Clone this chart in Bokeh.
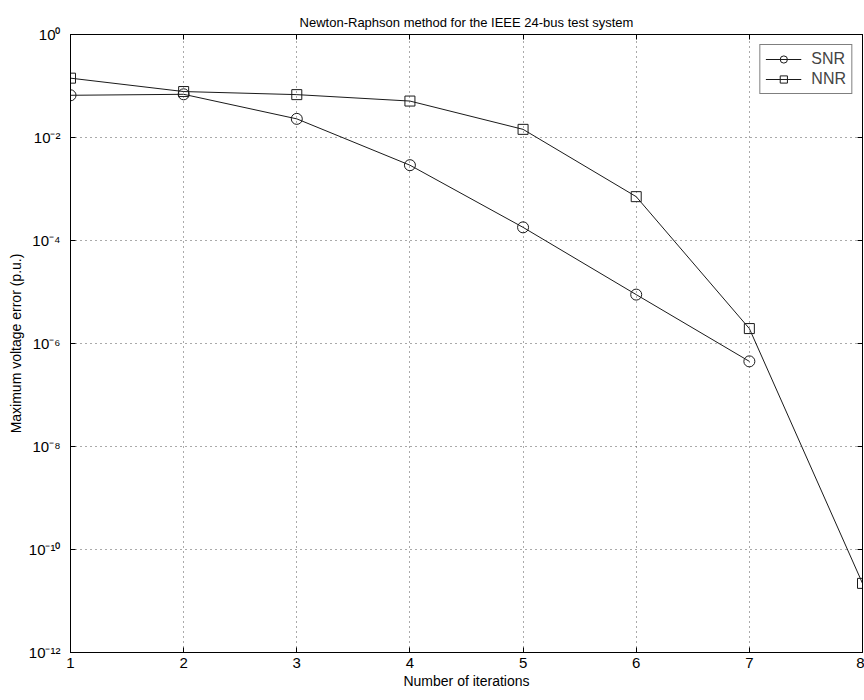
from bokeh.plotting import figure
from bokeh.models import (FixedTicker, CustomJSTickFormatter, Legend, LegendItem,
                          LogAxis, LinearAxis, Title)
from bokeh.embed import file_html
from bokeh.resources import INLINE

# Data
snr_iter = [1, 2, 3, 4, 5, 6, 7]
snr_err = [0.066, 0.069, 0.023, 0.0029, 1.8e-4, 8.9e-6, 4.5e-7]
nnr_iter = [1, 2, 3, 4, 5, 6, 7, 8]
nnr_err = [0.142, 0.078, 0.068, 0.051, 0.0144, 7.1e-4, 1.95e-6, 2.2e-11]
x_ticks = [1, 2, 3, 4, 5, 6, 7, 8]
y_ticks = [1e0, 1e-2, 1e-4, 1e-6, 1e-8, 1e-10, 1e-12]

FONT = "Liberation Sans"
C = "#1a1a1a"

p = figure(width=864, height=700, y_axis_type="log", x_range=(1, 8), y_range=(1e-12, 1),
           output_backend="svg", toolbar_location=None,
           min_border_left=70, min_border_right=2, min_border_top=34, min_border_bottom=48)
p.title = Title(text="Newton-Raphson method for the IEEE 24-bus test system",
                align="center", text_font=FONT, text_font_size="13px",
                text_font_style="normal", text_color="black")

sup_fmt = CustomJSTickFormatter(code="""
const sup = {'-':'\u207b','0':'\u2070','1':'\u00b9','2':'\u00b2','3':'\u00b3','4':'\u2074',
             '5':'\u2075','6':'\u2076','7':'\u2077','8':'\u2078','9':'\u2079'};
const e = String(Math.round(Math.log10(tick)));
let s = '';
for (const ch of e) s += sup[ch];
return '10' + s;
""")

p.yaxis.ticker = FixedTicker(ticks=y_ticks, minor_ticks=[])
p.yaxis.formatter = sup_fmt
p.xaxis.ticker = FixedTicker(ticks=x_ticks, minor_ticks=[])

for ax in (p.xaxis[0], p.yaxis[0]):
    ax.major_tick_in = 5
    ax.major_tick_out = 0
    ax.minor_tick_in = 0
    ax.minor_tick_out = 0
    ax.axis_line_color = "black"
    ax.major_tick_line_color = "black"
    ax.major_label_text_font = FONT
    ax.major_label_text_font_size = "15px"
    ax.major_label_text_color = "black"
    ax.axis_label_text_font = FONT
    ax.axis_label_text_font_size = "14px"
    ax.axis_label_text_font_style = "normal"
    ax.axis_label_text_color = "black"

p.xaxis.axis_label = "Number of iterations"
p.yaxis.axis_label = "Maximum voltage error (p.u.)"
p.xaxis.major_label_standoff = 5
p.xaxis.axis_label_standoff = 2
p.yaxis.major_label_standoff = 10
p.yaxis.axis_label_standoff = 2

# top / right axes with inward ticks, invisible labels
top = LinearAxis(ticker=FixedTicker(ticks=x_ticks, minor_ticks=[]),
                 major_label_text_font_size="1px", major_label_text_alpha=0,
                 major_tick_in=5, major_tick_out=0, minor_tick_in=0, minor_tick_out=0,
                 major_label_standoff=0)
right = LogAxis(ticker=FixedTicker(ticks=y_ticks, minor_ticks=[]),
                major_label_text_font_size="1px", major_label_text_alpha=0,
                major_tick_in=5, major_tick_out=0, minor_tick_in=0, minor_tick_out=0,
                major_label_standoff=0)
p.add_layout(top, "above")
p.add_layout(right, "right")

p.outline_line_color = "black"
p.xgrid.grid_line_color = "#555555"
p.ygrid.grid_line_color = "#555555"
p.xgrid.grid_line_dash = "1 4"
p.ygrid.grid_line_dash = "1 4"
p.xgrid.grid_line_width = 1
p.ygrid.grid_line_width = 1

l1 = p.line(snr_iter, snr_err, line_color=C, line_width=1)
m1 = p.scatter(snr_iter, snr_err, marker="circle", size=11, fill_color=None, line_color=C)
l2 = p.line(nnr_iter, nnr_err, line_color=C, line_width=1)
m2 = p.scatter(nnr_iter, nnr_err, marker="square", size=10, fill_color=None, line_color=C)

legend = Legend(items=[LegendItem(label="SNR", renderers=[l1, m1]),
                       LegendItem(label="NNR", renderers=[l2, m2])],
                location="top_right", border_line_color="black", background_fill_alpha=1,
                label_text_font=FONT, label_text_font_size="16px", label_standoff=10,
                glyph_width=36, glyph_height=18, label_height=18, spacing=2, padding=5,
                margin=10)
p.add_layout(legend, "center")

open("out.html", "w").write(file_html(p, INLINE))
